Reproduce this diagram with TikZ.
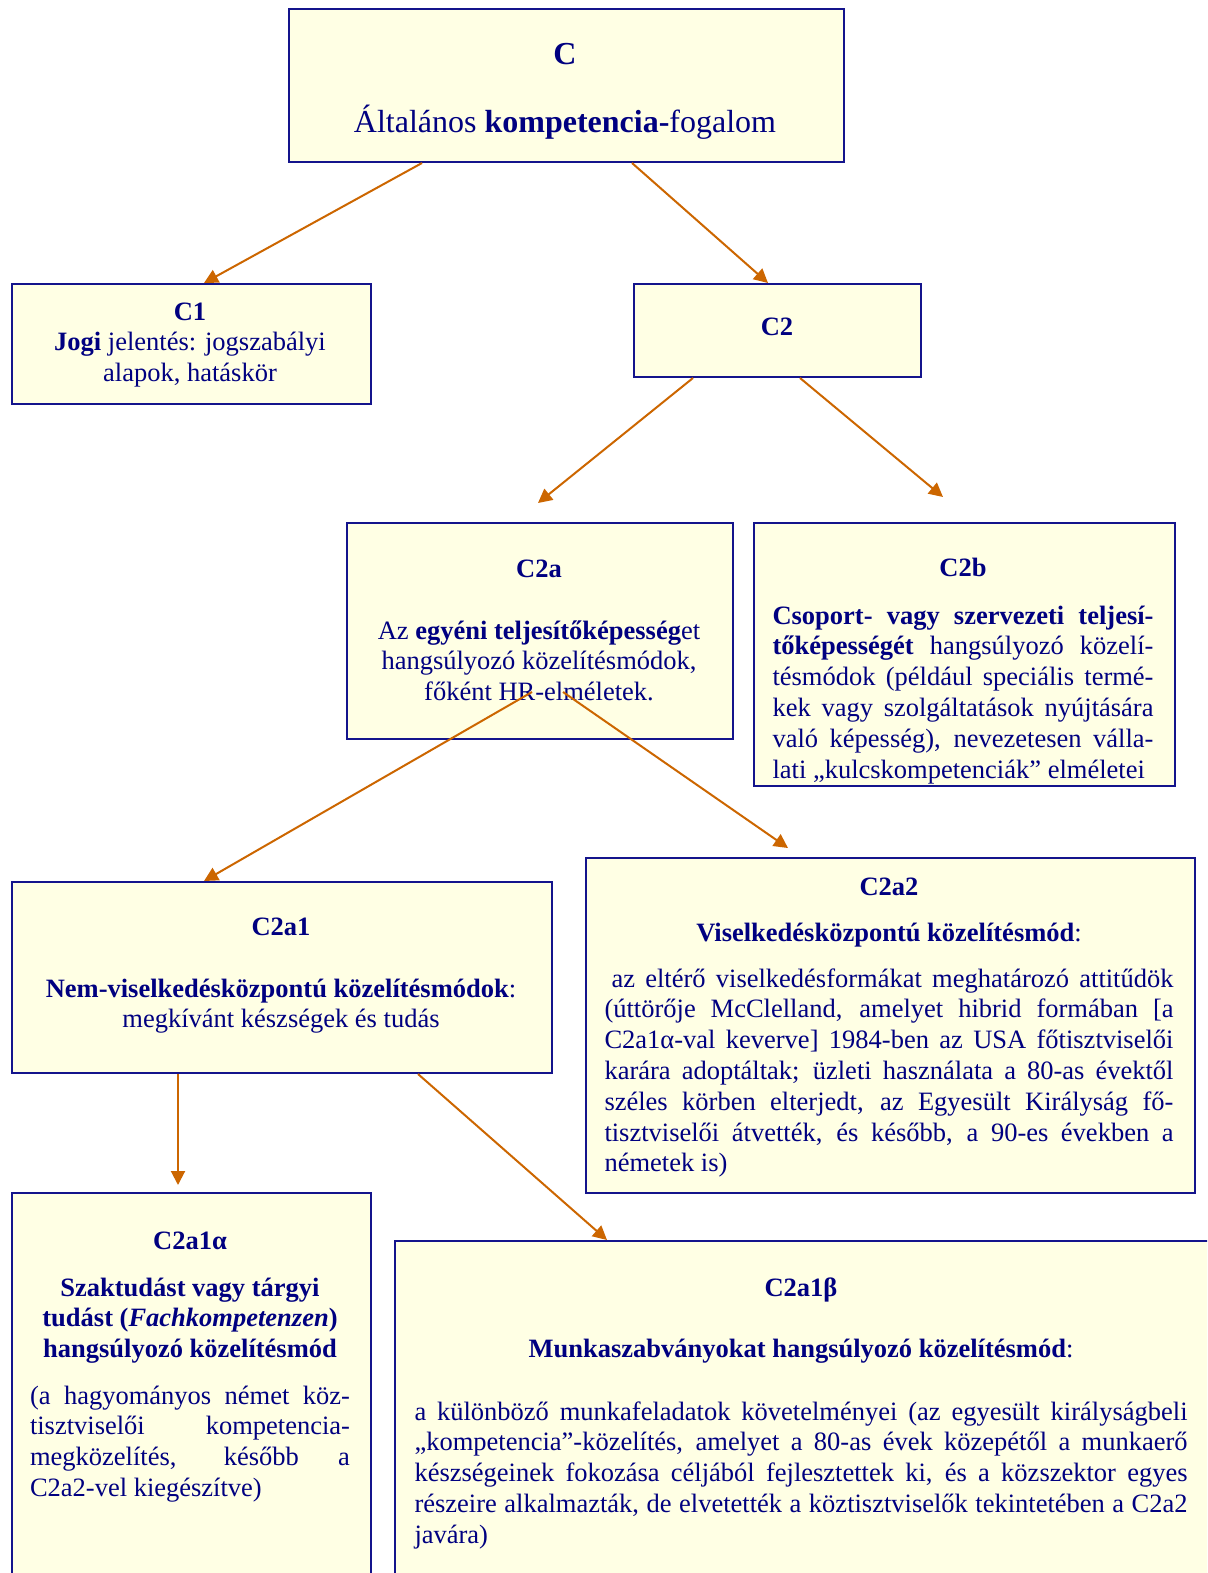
\documentclass[tikz,border=0pt]{standalone}
\usepackage{fontspec}
\setmainfont{Liberation Serif}
\usetikzlibrary{arrows.meta}

\definecolor{boxline}{RGB}{20,20,140}
\definecolor{boxfill}{RGB}{255,255,228}
\definecolor{txtblue}{RGB}{0,0,128}
\definecolor{linkor}{RGB}{204,102,0}

\newcommand{\bodysize}{\fontsize{26.5}{30.8}\selectfont}
\newcommand{\titlesize}{\fontsize{32}{36}\selectfont}

\begin{document}
\begin{tikzpicture}[x=1pt, y=-1pt,
    >={Triangle[length=14pt, width=14pt]},
    box/.style={draw=boxline, line width=2pt, fill=boxfill, anchor=north west, inner sep=0pt},
    txt/.style={text=txtblue, font=\bodysize, inner sep=0pt, anchor=base},
    lines/.style={txt, text width=#1, align=flush center},
    para/.style={txt, text width=#1, align=justify,
        execute at begin node={\tolerance=10000\hyphenpenalty=10000}},
    link/.style={->, draw=linkor, fill=linkor, line width=2pt}]

    \useasboundingbox (0,0) rectangle (1207,1573);
    \clip (0,0) rectangle (1207,1573);

    % Boxes
    \node[box, minimum width=555pt, minimum height=153pt] (c) at (288,8) {};
    \node[box, minimum width=359pt, minimum height=120pt] (c1) at (11,283) {};
    \node[box, minimum width=287pt, minimum height=93pt] (c2) at (633,283) {};
    \node[box, minimum width=386pt, minimum height=216pt] (c2a) at (346,522) {};
    \node[box, minimum width=421pt, minimum height=263pt] (c2b) at (753,522) {};
    \node[box, minimum width=540pt, minimum height=191pt] (c2a1) at (11,881) {};
    \node[box, minimum width=609pt, minimum height=335pt] (c2a2) at (585,857) {};
    \node[box, minimum width=359pt, minimum height=420pt] (c2a1a) at (11,1192) {};
    \node[box, minimum width=814pt, minimum height=370pt] (c2a1b) at (394,1240) {};

    % C
    \node[txt, font=\titlesize] (c-head) at (565,65) {\textbf{C}};
    \node[txt, font=\titlesize] (c-body) at (565,133) {Általános \textbf{kompetencia-}fogalom};

    % C1
    \node[lines=345pt] (c1-body) at (190,320) {\textbf{C1}\\
        \textbf{Jogi} jelentés: jogszabályi\\
        alapok, hatáskör};

    % C2
    \node[txt] (c2-head) at (777,335) {\textbf{C2}};

    % C2a
    \node[txt] (c2a-head) at (539,577) {\textbf{C2a}};
    \node[lines=375pt] (c2a-body) at (539,639) {Az \textbf{egyéni teljesítőképesség}et\\
        hangsúlyozó közelítésmódok,\\
        főként HR-elméletek.};

    % C2b
    \node[txt] (c2b-head) at (963,576) {\textbf{C2b}};
    \node[para=381pt] (c2b-body) at (963,624) {\textbf{Csoport- vagy szervezeti teljesí-}\linebreak
        \textbf{tőképességét} hangsúlyozó közelí-\linebreak
        tésmódok (például speciális termé-\linebreak
        kek vagy szolgáltatások nyújtására\linebreak
        való képesség), nevezetesen válla-\linebreak
        lati „kulcskompetenciák” elméletei};

    % C2a1
    \node[txt] (c2a1-head) at (281,935) {\textbf{C2a1}};
    \node[lines=530pt] (c2a1-body) at (281,997) {\textbf{Nem-viselkedésközpontú közelítésmódok}:\\
        megkívánt készségek és tudás};

    % C2a2
    \node[txt] (c2a2-head) at (889,895) {\textbf{C2a2}};
    \node[txt] (c2a2-sub) at (889,941) {\textbf{Viselkedésközpontú közelítésmód}:};
    \node[para=569pt] (c2a2-body) at (889,987) {\hspace*{7pt}az eltérő viselkedésformákat meghatározó attitűdök\linebreak
        (úttörője McClelland, amelyet hibrid formában [a\linebreak
        C2a1α-val keverve] 1984-ben az USA főtisztviselői\linebreak
        karára adoptáltak; üzleti használata a 80-as évektől\linebreak
        széles körben elterjedt, az Egyesült Királyság fő-\linebreak
        tisztviselői átvették, és később, a 90-es években a\linebreak
        németek is)};

    % C2a1 alpha
    \node[txt] (c2a1a-head) at (190,1249) {\textbf{C2a1α}};
    \node[lines=340pt, font=\bodysize\bfseries] (c2a1a-sub) at (190,1296) {Szaktudást vagy tárgyi\\
        tudást (\textit{Fachkompetenzen})\\
        hangsúlyozó közelítésmód};
    \node[para=320pt] (c2a1a-body) at (190,1404) {(a hagyományos német köz-\linebreak
        tisztviselői kompetencia-\linebreak
        megközelítés, később a\linebreak
        C2a2-vel kiegészítve)};

    % C2a1 beta
    \node[txt] (c2a1b-head) at (801,1296) {\textbf{C2a1β}};
    \node[txt] (c2a1b-sub) at (801,1357) {\textbf{Munkaszabványokat hangsúlyozó közelítésmód}:};
    \node[para=773pt] (c2a1b-body) at (801,1420) {a különböző munkafeladatok követelményei (az egyesült királyságbeli\linebreak
        „kompetencia”-közelítés, amelyet a 80-as évek közepétől a munkaerő\linebreak
        készségeinek fokozása céljából fejlesztettek ki, és a közszektor egyes\linebreak
        részeire alkalmazták, de elvetették a köztisztviselők tekintetében a C2a2\linebreak
        javára)};

    % Connectors
    \draw[link] ([xshift=134pt]c.south west) -- ([xshift=193pt]c1.north west);
    \draw[link] ([xshift=344pt]c.south west) -- ([xshift=135pt]c2.north west);
    \draw[link] ([xshift=60pt]c2.south west) -- ([xshift=192pt, yshift=19pt]c2a.north west);
    \draw[link] ([xshift=167pt]c2.south west) -- ([xshift=190pt, yshift=25pt]c2b.north west);
    \draw[link] ([xshift=186pt, yshift=48pt]c2a.south west) -- ([xshift=193pt]c2a1.north west);
    \draw[link] ([xshift=217pt, yshift=48pt]c2a.south west) -- ([xshift=203pt, yshift=9pt]c2a2.north west);
    \draw[link] ([xshift=167pt]c2a1.south west) -- ([xshift=167pt, yshift=7pt]c2a1a.north west);
    \draw[link] ([xshift=407pt]c2a1.south west) -- ([xshift=213pt]c2a1b.north west);

\end{tikzpicture}
\end{document}
